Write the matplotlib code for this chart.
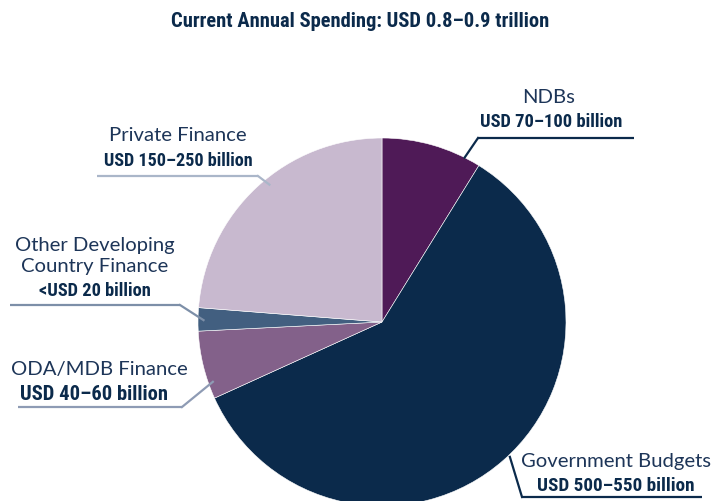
import numpy as np
import matplotlib
matplotlib.use("Agg")
import matplotlib.pyplot as plt
from matplotlib import font_manager as fm

W, H = 714, 501

# spending by source, USD billion (point estimates inside each stated range)
sources = ["NDBs", "Government Budgets", "ODA/MDB Finance",
           "Other Developing\nCountry Finance", "Private Finance"]
range_labels = ["USD 70–100 billion", "USD 500–550 billion", "USD 40–60 billion",
                "<USD 20 billion", "USD 150–250 billion"]
spend_bn = [78, 525, 53, 18, 210]
colors = ["#4f1a57", "#0b2a4b", "#83618a", "#425f80", "#c8b9cf"]
title = "Current Annual Spending: USD 0.8–0.9 trillion"

NAVY = "#0b2a4b"


def narrow_bold():
    """Find a condensed bold face if one is installed."""
    names = {f.name for f in fm.fontManager.ttflist}
    for cand in ["Liberation Sans Narrow", "Roboto Condensed", "Open Sans Condensed",
                 "Noto Sans Condensed", "DejaVu Sans Condensed"]:
        if cand in names:
            return dict(family=[cand, "DejaVu Sans"])
    for f in fm.fontManager.ttflist:
        if f.stretch in ("condensed", "semi-condensed", "extra-condensed") \
                or "Narrow" in f.name or "Condensed" in f.name:
            return dict(family=[f.name, "DejaVu Sans"], fontstretch=f.stretch)
    return dict(family=["Roboto", "DejaVu Sans"])


REG = dict(family=["Lato", "DejaVu Sans"], fontsize=14.6, color="#1d3558")
BOLD = dict(**narrow_bold(), fontsize=13.5, fontweight="bold", color=NAVY)

# label layout in pixels from the top-left:
# (name x, name y, value x, value y, value width, line y, line x0, line x1,
#  elbow side, position along wedge arc, radius factor, line colour)
layout = [
    (549, 97, 551, 122, 143, 138, 478, 634, "left", 0.16, 1.00, NAVY),
    (616, 462, 616, 486, 158, 497, 522, 702, "left", 0.51, 1.01, NAVY),
    (99, 370, 94, 394, 148, 407, 18, 182, "right", 0.77, 0.975, "#8e9bb4"),
    (95, 256, 95, 291, 112, 305, 10, 180, "right", 0.53, 0.97, "#7d8fa8"),
    (178, 135, 178, 161, 150, 176, 97, 258, "right", 0.46, 0.965, "#aab6c9"),
]


def fy(y):
    return H - y


fig = plt.figure(figsize=(W / 100, H / 100), dpi=100)
ax = fig.add_axes([0, 0, 1, 1])
center = (382, fy(322))
radius = 184
wedges, _ = ax.pie(spend_bn, colors=colors, startangle=90, counterclock=False,
                   center=center, radius=radius,
                   wedgeprops=dict(linewidth=0.4, edgecolor="#ffffff"))
ax.set_xlim(0, W)
ax.set_ylim(0, H)
ax.set_aspect("equal")
ax.axis("off")

renderer = fig.canvas.get_renderer()


def fit_text(x, y, s, width, props):
    # scale the font so the text spans the given pixel width
    t = ax.text(x, y, s, ha="center", va="center", **props)
    w = t.get_window_extent(renderer).width
    t.set_fontsize(props["fontsize"] * width / w)
    return t


for w, name, val, lay in zip(wedges, sources, range_labels, layout):
    nx, ny, vx, vy, vw, ly, x0, x1, side, frac, rf, lc = lay
    ang = np.deg2rad(w.theta1 + frac * (w.theta2 - w.theta1))
    px = center[0] + rf * radius * np.cos(ang)
    py = center[1] + rf * radius * np.sin(ang)
    ex = x0 if side == "left" else x1
    ax.plot([x0, x1], [fy(ly), fy(ly)], color=lc, lw=1.6, solid_capstyle="butt")
    ax.plot([ex, px], [fy(ly), py], color=lc, lw=1.6)
    ax.text(nx, fy(ny), name, ha="center", va="center", linespacing=1.25, **REG)
    fit_text(vx, fy(vy), val, vw, BOLD)

fit_text(360, fy(21), title, 380, BOLD)

fig.savefig("out.png", dpi=100)
